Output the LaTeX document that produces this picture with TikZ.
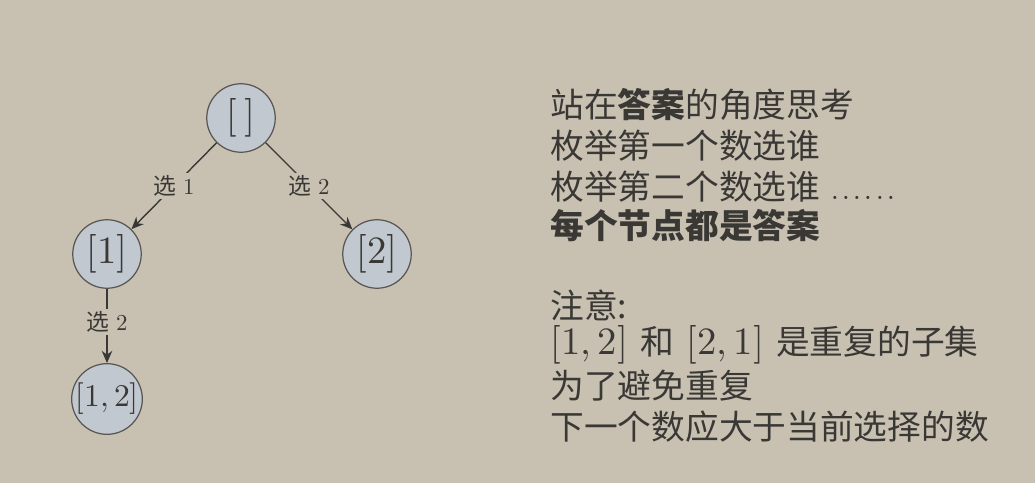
\documentclass[tikz,border=0pt]{standalone}
\usepackage{amsmath}
\usepackage{xcolor}
\usepackage{fontspec}
\usepackage{unicode-math}
\setmathfont{Latin Modern Math}
\usepackage{tikz}
\usetikzlibrary{arrows.meta,positioning}
\newfontfamily\cjk{Noto Sans CJK SC}
\definecolor{bgpaper}{HTML}{C8C1B2}
\definecolor{nodefill}{HTML}{C2C8CF}
\definecolor{inkgrey}{HTML}{3A3835}
\newcommand{\notemath}[1]{{\fontsize{22}{24}\selectfont$#1$}}
\newcommand{\gap}{\hspace{7pt}}
\newcommand{\sixdots}{{\fontsize{22}{24}\selectfont\foreach \k in {1,...,6}{.\hspace{0.8pt}}}}
\tikzset{
	state/.style={circle,draw=inkgrey!85,fill=nodefill,line width=0.7pt,minimum size=1.37cm,inner sep=0pt,text=inkgrey,font=\fontsize{22}{24}\selectfont},
	pick/.style={-{Stealth[length=7pt,width=6pt]},draw=inkgrey,line width=0.8pt},
	picklabel/.style={fill=bgpaper,inner sep=1.5pt,text=inkgrey,font=\fontsize{13}{15}\selectfont},
	note/.style={anchor=west,inner sep=0pt,text=inkgrey,font=\cjk\fontsize{19.2}{22}\selectfont}
}
\begin{document}
\begin{tikzpicture}[x=0.02cm,y=-0.02cm]
		\fill[bgpaper] (0,0) rectangle (1035,483);
		\useasboundingbox (0,0) rectangle (1035,483);
		% tree of subsets
		\node[state] (root) at (241,118) {$[\,]$};
		\node[state] (one) at (107,254) {$[1]$};
		\node[state] (two) at (377,254) {$[2]$};
		\node[state,font=\fontsize{18}{20}\selectfont] (onetwo) at (107,399) {$[1,2]$};
		\draw[pick] (root) -- node[picklabel] {{\cjk 选} $1$} (one);
		\draw[pick] (root) -- node[picklabel] {{\cjk 选} $2$} (two);
		\draw[pick] (one) -- node[picklabel,pos=0.45] {{\cjk 选} $2$} (onetwo);
		% explanation
		\node[note] (l1) at (550,105) {站在\textbf{答案}的角度思考};
		\node[note] (l2) at (550,146) {枚举第一个数选谁};
		\node[note] (l3) at (550,187) {枚举第二个数选谁\hspace{6pt}{\normalfont\sixdots}};
		\node[note] (l4) at (550,226) {\textbf{每个节点都是答案}};
		\node[note] (l5) at (550,305) {注意:};
		\node[note] (l6) at (550,345) {\notemath{[1,2]}\gap 和\gap\notemath{[2,1]}\gap 是重复的子集};
		\node[note] (l7) at (550,386) {为了避免重复};
		\node[note] (l8) at (550,427) {下一个数应大于当前选择的数};
	\end{tikzpicture}
\end{document}
